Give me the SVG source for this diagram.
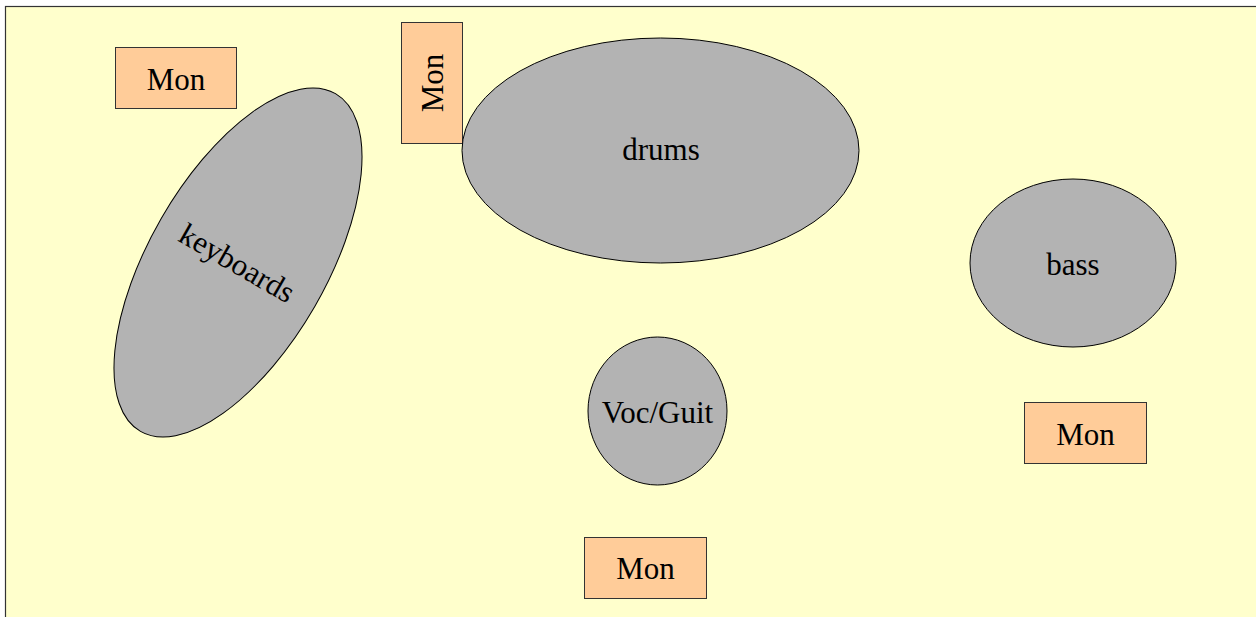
<svg xmlns="http://www.w3.org/2000/svg" width="1256" height="617" viewBox="0 0 1256 617">
<style>
.mon{fill:#ffcc99;stroke:#333333;stroke-width:1}
.inst{fill:#b3b3b3;stroke:#000000;stroke-width:1}
text{font-family:"Liberation Serif","Times New Roman",serif;font-size:31px;fill:#000000;text-anchor:middle}
</style>
<rect x="5.5" y="6.5" width="1260" height="620" fill="#ffffcc" stroke="#333333" stroke-width="1.2"/>
<g id="mon1"><rect class="mon" x="115.5" y="47.5" width="121" height="61"/><text x="176" y="90">Mon</text></g>
<g id="mon2"><rect class="mon" x="401.5" y="22.5" width="61" height="121"/><text transform="translate(443,83) rotate(-90)">Mon</text></g>
<g id="keyboards"><ellipse class="inst" cx="238" cy="262.5" rx="88.5" ry="195" transform="rotate(30 238 262.5)"/><text transform="translate(232,272) rotate(30)">keyboards</text></g>
<g id="drums"><ellipse class="inst" cx="660.5" cy="150.5" rx="198.5" ry="112.5"/><text x="661" y="160">drums</text></g>
<g id="bass"><ellipse class="inst" cx="1073" cy="263" rx="103" ry="84"/><text x="1073" y="275">bass</text></g>
<g id="vocguit"><ellipse class="inst" cx="657.5" cy="411" rx="69.5" ry="74"/><text x="657.5" y="423">Voc/Guit</text></g>
<g id="mon3"><rect class="mon" x="1024.5" y="402.5" width="122" height="61"/><text x="1085.5" y="445">Mon</text></g>
<g id="mon4"><rect class="mon" x="584.5" y="537.5" width="122" height="61"/><text x="645.5" y="579">Mon</text></g>
<g id="connectors"></g>
</svg>
